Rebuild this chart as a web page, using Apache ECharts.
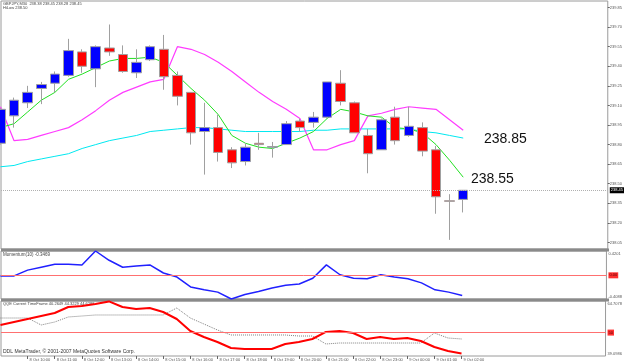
<!DOCTYPE html>
<html>
<head>
<meta charset="utf-8">
<script src="https://cdn.jsdelivr.net/npm/echarts@6/dist/echarts.min.js"></script>
<style>
html, body { margin: 0; padding: 0; background: #fff; }
#main { width: 625px; height: 363px; }
</style>
</head>
<body>
<div id="main"></div>
<script>
// GBPJPY M30, 8 Oct 09:00 .. 9 Oct 02:00
var timeLabels = ['8 Oct 2007', '8 Oct 10:00', '8 Oct 11:00', '8 Oct 12:00', '8 Oct 13:00', '8 Oct 14:00',
	'8 Oct 15:00', '8 Oct 16:00', '8 Oct 17:00', '8 Oct 18:00', '8 Oct 19:00', '8 Oct 20:00', '8 Oct 21:00',
	'8 Oct 22:00', '8 Oct 23:00', '9 Oct 00:00', '9 Oct 01:00', '9 Oct 02:00'];

var opens = [238.81, 239.02, 239.12, 239.23, 239.27, 239.33, 239.51, 239.38, 239.54, 239.49, 239.35, 239.45,
	239.53, 239.33, 239.20, 238.90, 238.93, 238.76, 238.67, 238.81, 238.78, 238.80, 238.98, 238.97, 239.01,
	239.27, 239.12, 238.87, 238.76, 239.01, 238.87, 238.93, 238.76, 238.37, 238.38];
var closes = [239.07, 239.14, 239.20, 239.26, 239.34, 239.52, 239.40, 239.55, 239.51, 239.36, 239.43, 239.55,
	239.32, 239.17, 238.89, 238.93, 238.74, 238.66, 238.78, 238.80, 238.785, 238.96, 238.93, 239.01, 239.28,
	239.13, 238.89, 238.73, 238.99, 238.83, 238.94, 238.75, 238.40, 238.365, 238.45];
var lows = [238.80, 238.93, 239.08, 239.11, 239.20, 239.32, 239.35, 239.24, 239.48, 239.35, 239.31, 239.44,
	239.22, 239.10, 238.80, 238.57, 238.67, 238.62, 238.64, 238.76, 238.70, 238.80, 238.90, 238.93, 239.00,
	239.10, 238.89, 238.58, 238.76, 238.80, 238.86, 238.71, 238.27, 238.07, 238.28];
var highs = [239.08, 239.16, 239.25, 239.28, 239.36, 239.61, 239.53, 239.56, 239.72, 239.56, 239.53, 239.56,
	239.64, 239.36, 239.20, 239.12, 239.03, 238.78, 238.81, 238.89, 238.82, 238.98, 239.00, 239.05, 239.28,
	239.37, 239.13, 238.92, 239.00, 239.09, 239.09, 238.97, 238.79, 238.42, 238.45];

var hiLow = [239.09, 238.83, 238.84, 238.87, 238.90, 238.93, 238.99, 239.06, 239.14, 239.20, 239.24, 239.28,
	239.30, 239.55, 239.53, 239.49, 239.43, 239.36, 239.28, 239.20, 239.13, 239.07, 239.00, 238.76, 238.76,
	238.80, 238.83, 239.02, 239.04, 239.07, 239.09, 239.08, 239.07, 238.99, 238.91];
var maFast = [238.93, 238.96, 239.05, 239.14, 239.20, 239.30, 239.34, 239.39, 239.44, 239.46, 239.46, 239.47,
	239.43, 239.33, 239.23, 239.14, 239.03, 238.87, 238.81, 238.78, 238.77, 238.81, 238.85, 238.90, 239.00,
	239.07, 239.05, 239.02, 239.01, 238.93, 238.92, 238.89, 238.80, 238.68, 238.55];
var maSlow = [238.63, 238.64, 238.67, 238.69, 238.71, 238.73, 238.77, 238.80, 238.83, 238.85, 238.87, 238.90,
	238.91, 238.92, 238.93, 238.93, 238.92, 238.91, 238.90, 238.90, 238.90, 238.90, 238.90, 238.91, 238.91,
	238.92, 238.92, 238.92, 238.92, 238.92, 238.92, 238.90, 238.89, 238.87, 238.85];

var momentum = [-0.01, -0.01, 0.09, 0.14, 0.19, 0.19, 0.18, 0.4201, 0.26, 0.14, 0.16, 0.18, 0.04, -0.03,
	-0.20, -0.25, -0.29, -0.4088, -0.33, -0.28, -0.22, -0.17, -0.15, -0.05, 0.18, 0.01, -0.05, -0.06, 0.01,
	-0.03, -0.06, -0.13, -0.25, -0.29, -0.3469];

var qqeMain = [53.54, 54.93, 56.33, 57.72, 59.12, 61.92, 62.38, 63.31, 64.50, 61.92, 60.98, 61.45, 59.59,
	56.33, 50.74, 47.95, 45.62, 42.82, 42.36, 42.36, 42.36, 44.69, 45.62, 47.02, 50.28, 50.74, 49.81, 47.02,
	47.95, 47.02, 47.48, 46.09, 43.29, 41.43, 40.26];
var qqeSignal = [56.79, 56.79, 56.79, 53.54, 54.93, 57.26, 57.72, 58.19, 58.19, 58.19, 58.19, 58.19, 58.19,
	61.45, 56.79, 54.00, 51.21, 48.88, 48.88, 48.88, 48.88, 48.88, 48.41, 48.41, 44.69, 45.15, 45.15, 45.15,
	45.15, 45.15, 45.15, 45.15, 49.81, 47.48, 47.02];

var priceTicks = [238.05, 238.20, 238.35, 238.50, 238.65, 238.80, 238.95, 239.10, 239.25, 239.40, 239.55, 239.70, 239.85];
var momTicks = [-0.4088, 0.4201];
var qqeTicks = [39.0986, 64.7078];

var lastPrice = 238.45;
var labelFast = '238.55';
var labelSlow = '238.85';

var chart = echarts.init(document.getElementById('main'));

function pairs(arr) {
	return arr.map(function(v, i) { return [i, v]; });
}
var candles = opens.map(function(o, i) { return [i, o, closes[i], lows[i], highs[i]]; });
var labelPos = timeLabels.map(function(t, i) { return i * 2; });

var small = { fontFamily: 'Liberation Sans, Arial', fontSize: 4, color: '#555' };
var xBase = { type: 'value', min: 0.04, max: 44.62, splitLine: { show: false } };
var tagLabel = function(text, bg, fg) {
	return { show: true, position: 'end', distance: 2, formatter: text, backgroundColor: bg, color: fg,
		fontSize: 4, padding: [1, 1], fontFamily: 'Liberation Sans, Arial' };
};

option = {
	animation: false,
	backgroundColor: '#fff',
	grid: [
		{ left: 1, top: 1, width: 608, height: 248, show: true, borderColor: '#9a9a9a', borderWidth: 1 },
		{ left: 1, top: 251, width: 608, height: 48, show: true, borderColor: '#9a9a9a', borderWidth: 1 },
		{ left: 1, top: 301, width: 608, height: 55, show: true, borderColor: '#9a9a9a', borderWidth: 1 }
	],
	xAxis: [
		Object.assign({ gridIndex: 0, show: false }, xBase),
		Object.assign({ gridIndex: 1, show: false }, xBase),
		Object.assign({
			gridIndex: 2,
			axisLine: { show: false },
			axisTick: { show: true, customValues: labelPos, length: 3, lineStyle: { color: '#666' } },
			axisLabel: Object.assign({ customValues: labelPos, align: 'left', margin: 2, padding: [0, 0, 0, 2],
				formatter: function(v) { return timeLabels[Math.round(v / 2)]; } }, small)
		}, xBase)
	],
	yAxis: [
		{
			gridIndex: 0, type: 'value', position: 'right', min: 238.0, max: 239.9,
			splitLine: { show: false }, axisLine: { show: false },
			axisTick: { show: true, customValues: priceTicks, length: 2, lineStyle: { color: '#666' } },
			axisLabel: Object.assign({ customValues: priceTicks, margin: 2,
				formatter: function(v) { return v.toFixed(2); } }, small)
		},
		{
			gridIndex: 1, type: 'value', position: 'right', min: momTicks[0], max: momTicks[1],
			splitLine: { show: false }, axisLine: { show: false }, axisTick: { show: false },
			axisLabel: Object.assign({ customValues: momTicks, margin: 2,
				formatter: function(v) { return v > 0 ? '{t|' + v.toFixed(4) + '}' : '{b|' + v.toFixed(4) + '}'; },
				rich: { t: { fontSize: 4, color: '#555', padding: [5, 0, 0, 0] }, b: { fontSize: 4, color: '#555', padding: [0, 0, 5, 0] } }
			}, small)
		},
		{
			gridIndex: 2, type: 'value', position: 'right', min: qqeTicks[0], max: qqeTicks[1],
			splitLine: { show: false }, axisLine: { show: false }, axisTick: { show: false },
			axisLabel: Object.assign({ customValues: qqeTicks, margin: 2,
				formatter: function(v) { return v > 50 ? '{t|' + v.toFixed(4) + '}' : '{b|' + v.toFixed(4) + '}'; },
				rich: { t: { fontSize: 4, color: '#555', padding: [5, 0, 0, 0] }, b: { fontSize: 4, color: '#555', padding: [0, 0, 5, 0] } }
			}, small)
		}
	],
	series: [
		{ type: 'line', xAxisIndex: 0, yAxisIndex: 0, data: pairs(maSlow), symbol: 'none', z: 2,
			lineStyle: { color: '#00e8f0', width: 1 } },
		{ type: 'line', xAxisIndex: 0, yAxisIndex: 0, data: pairs(hiLow), symbol: 'none', z: 2,
			lineStyle: { color: '#ff3cff', width: 1.2 } },
		{ type: 'line', xAxisIndex: 0, yAxisIndex: 0, data: pairs(maFast), symbol: 'none', z: 2,
			lineStyle: { color: '#22e022', width: 1 } },
		{
			type: 'candlestick', xAxisIndex: 0, yAxisIndex: 0, data: candles, z: 3,
			encode: { x: 0, y: [1, 2, 3, 4] },
			barWidth: 10,
			itemStyle: { color: '#0000ff', color0: '#ff0000', borderColor: '#a0a0a0', borderColor0: '#a0a0a0', borderWidth: 1 },
			markLine: {
				symbol: 'none', silent: true,
				lineStyle: { color: '#b0b0b0', type: 'dotted', width: 1 },
				label: tagLabel(lastPrice.toFixed(2), '#000', '#fff'),
				data: [{ yAxis: lastPrice }]
			}
		},
		{
			type: 'line', xAxisIndex: 1, yAxisIndex: 1, data: pairs(momentum), symbol: 'none',
			lineStyle: { color: '#2020ff', width: 1.5 },
			markLine: {
				symbol: 'none', silent: true,
				lineStyle: { color: '#ff7070', type: 'solid', width: 1 },
				label: tagLabel('0.00', '#ff3030', '#500'),
				data: [{ yAxis: 0 }]
			}
		},
		{
			type: 'line', xAxisIndex: 2, yAxisIndex: 2, data: pairs(qqeSignal), symbol: 'none',
			lineStyle: { color: '#808080', type: 'dotted', width: 1 }
		},
		{
			type: 'line', xAxisIndex: 2, yAxisIndex: 2, data: pairs(qqeMain), symbol: 'none',
			lineStyle: { color: '#ff0000', width: 2 },
			markLine: {
				symbol: 'none', silent: true,
				lineStyle: { color: '#ff7070', type: 'solid', width: 1 },
				label: tagLabel('50', '#ff3030', '#500'),
				data: [{ yAxis: 50 }]
			}
		}
	],
	graphic: [
		{ type: 'rect', shape: { x: 1, y: 248.5, width: 608, height: 3 }, style: { fill: '#8a8a8a' } },
		{ type: 'rect', shape: { x: 1, y: 298.5, width: 608, height: 3 }, style: { fill: '#8a8a8a' } },
		{ type: 'text', style: { x: 3, y: 2, text: 'GBPJPY,M30  238.38 238.45 238.28 238.45', font: '4px Liberation Sans', fill: '#444' } },
		{ type: 'text', style: { x: 3, y: 6, text: 'HiLow 238.50', font: '4px Liberation Sans', fill: '#444' } },
		{ type: 'text', style: { x: 3, y: 252, text: 'Momentum(10) -0.3469', font: '4.5px Liberation Sans', fill: '#444' } },
		{ type: 'text', style: { x: 3, y: 302, text: 'QQE Current TimeFrame 40.2649 44.3229 44.6288', font: '4px Liberation Sans', fill: '#444' } },
		{ type: 'text', style: { x: 3, y: 349, text: 'DDL MetaTrader, © 2001-2007 MetaQuotes Software Corp.', font: '5px Liberation Sans', fill: '#333' } },
		{ type: 'text', style: { x: 484, y: 139, text: labelSlow, font: '14px Liberation Sans', fill: '#111', verticalAlign: 'middle' } },
		{ type: 'text', style: { x: 471, y: 179, text: labelFast, font: '14px Liberation Sans', fill: '#111', verticalAlign: 'middle' } }
	]
};
chart.setOption(option);
</script>
</body>
</html>
